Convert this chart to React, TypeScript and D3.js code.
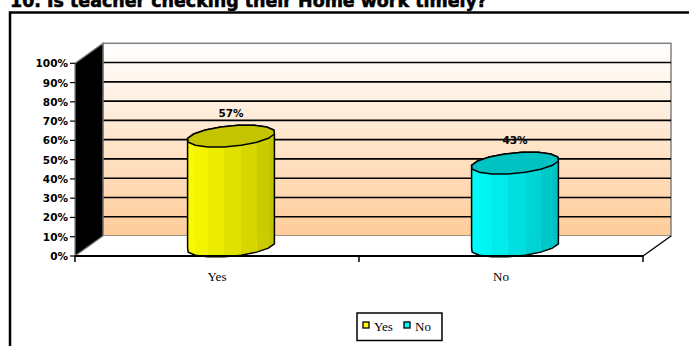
import React from "react";
import * as d3 from "d3";

const title = "10. Is teacher checking their Home work timely?";
const categories = ["Yes", "No"];
const values = [57, 43];
const barLight = ["#FFFF00", "#00FFFF"];
const barDark = ["#B8B800", "#00B4B4"];
const barTop = ["#C4C400", "#00C2C2"];
const yTicks = [0, 10, 20, 30, 40, 50, 60, 70, 80, 90, 100];

const W = 689;
const H = 346;
const DX = 28;
const DY = -20;

export default function App() {
  const x = d3.scaleBand<string>().domain(categories).range([75, 643]);
  const y = d3.scaleLinear().domain([0, 100]).range([256, 63.3]);
  const x0 = 75, x1 = 643;
  const y0 = y(0), y100 = y(100);

  const gridY = yTicks.filter((t) => t > 0 && t < 100);

  const N = 16;
  const hx = 15.4, hy = -11;
  const R = 41.2;

  const bars = categories.map((c, i) => {
    const cx = (x(c) as number) + x.bandwidth() / 2 + DX / 2;
    const cyBottom = y(0) + DY / 2;
    const cyTop = y(values[i]) + DY / 2;
    const angles = d3.range(N).map((k) => (2 * Math.PI * k) / N + Math.PI / N);
    const pt = (a: number, cy: number): [number, number] => [
      cx + R * Math.cos(a) + hx * Math.sin(a),
      cy + hy * Math.sin(a),
    ];
    const topPts = angles.map((a) => pt(a, cyTop));
    const botPts = angles.map((a) => pt(a, cyBottom));
    const facets = angles.map((a, k) => {
      const k2 = (k + 1) % N;
      const mid = a + Math.PI / N;
      const poly = [topPts[k], topPts[k2], botPts[k2], botPts[k]];
      const sx = Math.cos(mid) * R + hx * Math.sin(mid);
      const t = Math.max(0, Math.min(1, (sx / (R + hx) + 1) / 2));
      return { poly, depth: Math.sin(mid), color: d3.interpolateRgb(barLight[i], barDark[i])(Math.pow(t, 1.3)) };
    });
    facets.sort((a, b) => b.depth - a.depth);
    const hull = d3.polygonHull([...topPts, ...botPts]) as [number, number][];
    return { cx, cyTop, topPts, facets, hull, i };
  });

  const line = (pts: [number, number][]) => "M" + pts.map((p) => p.join(",")).join("L") + "Z";

  return (
    <svg width={W} height={H} style={{ position: "absolute", left: 0, top: 0, display: "block" }}>
      <defs>
        <linearGradient id="wallGrad" x1="0" y1="0" x2="0" y2="1">
          <stop offset="0%" stopColor="#FFFFFF" />
          <stop offset="100%" stopColor="#FFCC99" />
        </linearGradient>
      </defs>
      <rect x={0} y={0} width={W} height={H} fill="#FFFFFF" />
      <text x={10} y={7} fontFamily="'DejaVu Sans', sans-serif" fontWeight={900} fontSize={18}
        textLength={477} lengthAdjust="spacingAndGlyphs" fill="#000" stroke="#000" strokeWidth={0.6}>{title}</text>
      <rect x={10} y={12.5} width={W + 10} height={H + 10} fill="none" stroke="#000" strokeWidth={2.5} />

      {/* back wall */}
      <rect x={x0 + DX} y={y100 + DY} width={x1 - x0} height={y0 - y100} fill="url(#wallGrad)" stroke="#808080" strokeWidth={1.5} />
      {gridY.map((t) => (
        <line key={t} x1={x0 + DX} x2={x1 + DX} y1={y(t) + DY} y2={y(t) + DY} stroke="#000" strokeWidth={1.6} />
      ))}
      {/* floor */}
      <path d={line([[x0, y0], [x1, y0], [x1 + DX, y0 + DY], [x0 + DX, y0 + DY]])} fill="#FFFFFF" stroke="none" />
      <line x1={x1} y1={y0} x2={x1 + DX} y2={y0 + DY} stroke="#000" strokeWidth={1.3} />
      {/* left wall */}
      <path d={line([[x0, y0], [x0, y100], [x0 + DX, y100 + DY], [x0 + DX, y0 + DY]])} fill="#000" stroke="#808080" strokeWidth={1.3} />

      {/* bars */}
      {bars.map((b) => (
        <g key={b.i}>
          {b.facets.map((f, k) => (
            <path key={k} d={line(f.poly)} fill={f.color} stroke={f.color} strokeWidth={0.6} />
          ))}
          <path d={line(b.hull)} fill="none" stroke="#000" strokeWidth={1.5} />
          <path d={line(b.topPts)} fill={barTop[b.i]} stroke="#000" strokeWidth={1.5} />
          <text x={b.cx} y={b.cyTop - 19} textAnchor="middle" fontFamily="'DejaVu Sans', sans-serif" fontWeight="bold" fontSize={10.5} fill="#000">
            {values[b.i]}%
          </text>
        </g>
      ))}

      {/* front axis */}
      <line x1={x0} x2={x1} y1={y0} y2={y0} stroke="#000" strokeWidth={2} />
      {[x0, (x(categories[1]) as number), x1].map((px, k) => (
        <line key={k} x1={px} x2={px} y1={y0} y2={y0 + 6} stroke="#000" strokeWidth={1.5} />
      ))}
      {yTicks.map((t) => (
        <g key={t}>
          <line x1={x0 - 5} x2={x0} y1={y(t)} y2={y(t)} stroke="#000" strokeWidth={1.2} />
          <text x={68} y={y(t) + 4} textAnchor="end" fontFamily="'DejaVu Sans', sans-serif" fontWeight="bold" fontSize={10.5} fill="#000">
            {t}%
          </text>
        </g>
      ))}
      {categories.map((c) => (
        <text key={c} x={(x(c) as number) + x.bandwidth() / 2} y={281} textAnchor="middle" fontFamily="'Liberation Serif', serif" fontSize={13} fill="#000">
          {c}
        </text>
      ))}

      {/* legend */}
      <rect x={357} y={313} width={85} height={27.5} fill="#FFFFFF" stroke="#000" strokeWidth={1.5} />
      {categories.map((c, i) => {
        const lx = 363 + i * 41;
        return (
          <g key={c}>
            <rect x={lx} y={322} width={6} height={6} fill={barLight[i]} stroke="#000" strokeWidth={1.3} />
            <text x={lx + 11} y={330.5} fontFamily="'Liberation Serif', serif" fontSize={13} fill="#000">{c}</text>
          </g>
        );
      })}
    </svg>
  );
}
